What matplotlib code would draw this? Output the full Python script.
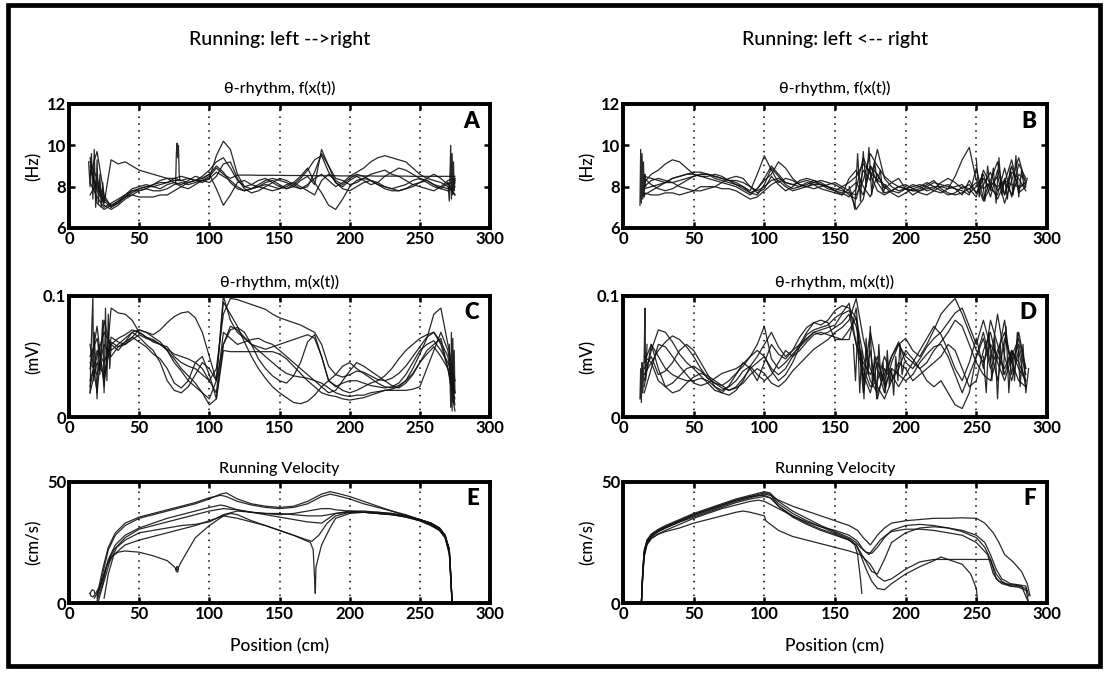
import numpy as np
import matplotlib
matplotlib.use("Agg")
import matplotlib.pyplot as plt
from matplotlib.patches import Rectangle

plt.rcParams['font.family'] = ['Lato', 'DejaVu Sans']

# position grids (cm) for the theta traces
pos_left = np.arange(15, 276, 5)    # 53 samples, left -> right runs
pos_right = np.arange(15, 286, 5)   # 55 samples, left <- right runs

# ---- A: theta frequency, left -> right (Hz)
freq_a1 = [9.2, 8.4, 7.4, 7.1, 7.2, 7.5, 7.8, 7.9, 8.0, 8.1, 8.2, 8.2, 8.3,
           8.3, 8.4, 8.3, 8.2, 8.4, 9.5, 10.2, 9.8, 8.6, 8.0, 7.9, 8.1, 8.3,
           8.4, 8.3, 8.2, 8.0, 7.9, 8.1, 8.4, 8.6, 8.3, 8.0, 8.2, 8.5, 8.7,
           8.9, 9.2, 9.4, 9.5, 9.4, 9.3, 9.2, 8.9, 8.6, 8.4, 8.3, 8.2, 8.0, 7.6]
freq_a2 = [8.6, 9.7, 7.6, 7.0, 7.3, 7.6, 7.9, 8.0, 8.1, 8.0, 7.9, 8.1, 8.2,
           8.1, 8.3, 8.5, 8.4, 8.6, 7.9, 7.1, 7.6, 8.2, 8.3, 8.1, 8.0, 8.2,
           8.3, 8.1, 7.9, 8.0, 8.3, 8.5, 8.1, 9.8, 9.0, 8.4, 8.3, 8.1, 8.2,
           8.4, 8.6, 8.7, 8.8, 8.6, 8.5, 8.3, 8.1, 8.2, 8.4, 8.6, 8.4, 8.1, 8.3]
freq_a3 = [9.0, 7.8, 7.2, 9.3, 9.1, 9.2, 9.0, 8.8, 8.7, 8.6, 8.5, 8.4, 8.4,
           8.3, 8.2, 8.3, 8.5, 8.8, 9.2, 9.4, 8.9, 8.3, 8.0, 8.1, 8.3, 8.4,
           8.2, 8.0, 7.9, 8.1, 8.4, 8.8, 9.3, 9.5, 8.7, 8.2, 8.0, 8.3, 8.5,
           8.3, 8.1, 8.2, 8.5, 8.7, 8.9, 8.8, 8.6, 8.4, 8.3, 8.1, 8.0, 7.9, 8.2]
freq_a4 = [9.4, 7.2, 6.9, 7.1, 7.3, 7.5, 7.6, 7.5, 7.5, 7.5, 7.6, 7.6, 7.8,
           8.0, 8.2, 8.3, 8.4, 8.6, 9.0, 8.7, 8.2, 7.9, 7.8, 7.9, 8.0, 8.1,
           8.0, 7.9, 8.0, 8.2, 8.5, 8.9, 8.2, 7.7, 7.1, 6.9, 7.4, 8.0, 8.3,
           8.4, 8.3, 8.1, 8.0, 7.9, 8.0, 8.1, 8.3, 8.4, 8.2, 8.0, 7.9, 7.8, 8.0]
freq_a5 = [8.8, 8.0, 7.3, 7.0, 7.2, 7.5, 7.7, 7.9, 8.0, 8.0, 8.1, 8.2, 8.4,
           8.5, 8.4, 8.3, 8.3, 8.5, 8.9, 8.6, 8.4, 8.56, 8.56, 8.56, 8.55, 8.55,
           8.55, 8.55, 8.54, 8.54, 8.54, 8.54, 8.53, 8.53, 8.53, 8.53, 8.52, 8.52, 8.52,
           8.52, 8.52, 8.51, 8.51, 8.51, 8.51, 8.51, 8.5, 8.5, 8.5, 8.5, 8.5, 8.5, 8.5]
freq_a6 = [8.2, 7.5, 7.0, 7.2, 7.4, 7.6, 7.8, 7.8, 7.9, 8.1, 8.3, 8.4, 8.2,
           8.0, 7.9, 8.1, 8.3, 8.2, 8.5, 9.1, 9.2, 8.4, 7.9, 7.7, 7.8, 8.0,
           8.2, 8.4, 8.3, 8.1, 7.9, 8.0, 8.7, 9.6, 9.0, 8.2, 7.9, 7.8, 8.0,
           8.2, 8.3, 8.2, 8.0, 7.9, 7.8, 7.9, 8.0, 8.2, 8.3, 8.1, 7.9, 8.2, 7.6]
freq_a7 = [7.6, 8.2, 7.1, 6.9, 7.1, 7.4, 7.6, 7.8, 7.9, 7.8, 7.8, 7.9, 8.1,
           8.2, 8.1, 8.2, 8.3, 8.4, 8.7, 8.5, 8.3, 8.0, 7.8, 7.9, 8.0, 7.9,
           7.8, 7.9, 8.1, 8.2, 8.0, 7.8, 7.6, 8.3, 8.6, 8.3, 8.1, 8.4, 8.6,
           8.5, 8.3, 8.1, 7.9, 7.8, 7.8, 7.9, 8.1, 8.0, 7.9, 7.8, 8.0, 8.3, 8.4]
# short bursts at the track ends and the glitch near 77 cm
freq_a_start_x = [14, 15, 16, 17, 18, 19, 20, 21, 22, 23, 24, 25, 26]
freq_a_start_y = [9.2, 8.0, 9.6, 7.4, 9.8, 7.0, 9.3, 7.2, 8.6, 7.0, 8.2, 7.3, 7.6]
freq_a_spike_x = [76, 76.5, 77, 77.5, 78, 78.5, 79]
freq_a_spike_y = [8.2, 9.6, 10.1, 9.4, 10.0, 8.6, 8.3]
freq_a_end_x = [270, 271, 272, 272.5, 273, 273.5, 274, 274.5, 275]
freq_a_end_y = [8.2, 7.3, 10.0, 7.4, 9.6, 7.6, 9.2, 7.8, 8.4]

# ---- B: theta frequency, left <- right (Hz)
freq_b1 = [8.2, 8.6, 8.8, 9.1, 9.3, 9.2, 8.9, 8.6, 8.5, 8.4, 8.3, 8.2, 8.1,
           8.0, 7.8, 7.6, 7.9, 8.4, 9.0, 8.6, 8.2, 8.1, 8.2, 8.3, 8.2, 8.1,
           8.0, 7.9, 7.8, 7.7, 7.6, 8.3, 9.6, 9.0, 8.5, 8.2, 8.0, 7.9, 7.8,
           7.8, 7.9, 8.0, 8.0, 7.9, 8.5, 9.3, 9.9, 8.3, 7.9, 8.2, 8.0, 8.3, 8.1, 8.0, 8.2]
freq_b2 = [8.5, 8.4, 8.3, 8.2, 8.2, 8.3, 8.4, 8.5, 8.6, 8.6, 8.5, 8.4, 8.3,
           8.2, 8.0, 7.8, 8.6, 9.5, 8.8, 8.2, 8.4, 8.3, 8.1, 8.0, 8.2, 8.3,
           8.2, 8.1, 7.9, 7.6, 7.4, 8.8, 8.3, 9.8, 8.4, 8.0, 7.8, 7.9, 8.0,
           8.1, 8.0, 7.8, 7.7, 7.9, 8.0, 8.1, 7.7, 8.0, 8.6, 7.5, 8.8, 7.6, 9.0, 7.9, 8.2]
freq_b3 = [7.6, 7.8, 8.0, 8.2, 8.4, 8.5, 8.6, 8.6, 8.5, 8.5, 8.6, 8.5, 8.3,
           8.1, 7.9, 7.7, 7.9, 8.3, 8.6, 9.2, 8.9, 8.4, 8.1, 8.0, 7.9, 8.0,
           8.1, 8.2, 8.0, 7.8, 6.9, 7.4, 9.0, 8.2, 7.7, 7.8, 8.0, 8.1, 7.9,
           7.7, 7.6, 7.8, 8.0, 8.1, 7.9, 7.8, 7.6, 8.9, 7.4, 8.3, 9.2, 7.6, 8.7, 8.4, 7.8]
freq_b4 = [7.7, 7.6, 7.6, 7.7, 7.7, 7.6, 7.7, 7.8, 8.0, 8.0, 8.0, 7.9, 7.9,
           7.8, 7.6, 7.4, 7.5, 7.8, 8.1, 8.3, 8.0, 7.8, 7.9, 8.0, 8.1, 8.1,
           8.0, 7.8, 7.7, 7.5, 7.9, 9.4, 8.6, 7.8, 7.6, 7.8, 8.0, 7.9, 7.8,
           7.9, 8.1, 8.3, 7.9, 7.7, 7.6, 7.7, 7.9, 8.2, 7.3, 8.0, 8.5, 7.2, 8.3, 9.4, 8.1]
freq_b5 = [8.0, 8.3, 8.4, 8.3, 8.2, 8.0, 7.9, 7.8, 7.8, 7.9, 8.0, 8.2, 8.4,
           8.5, 8.4, 8.0, 7.7, 7.9, 8.5, 8.1, 7.8, 8.0, 8.3, 8.4, 8.3, 8.1,
           7.9, 7.8, 8.0, 8.2, 8.5, 9.1, 8.7, 8.3, 8.1, 7.8, 7.7, 7.9, 8.1,
           8.0, 7.8, 7.9, 8.2, 8.4, 8.2, 7.9, 8.1, 7.7, 8.4, 7.9, 7.6, 8.9, 7.5, 8.6, 8.3]
freq_b6 = [7.9, 8.0, 8.1, 8.2, 8.4, 8.5, 8.6, 8.7, 8.7, 8.6, 8.5, 8.4, 8.3,
           8.3, 8.2, 8.0, 7.8, 8.0, 8.3, 8.4, 8.2, 8.1, 8.0, 8.1, 8.3, 8.2,
           8.0, 7.8, 7.6, 8.4, 8.8, 8.0, 7.5, 8.6, 7.9, 8.2, 8.4, 7.9, 7.6,
           7.8, 8.0, 8.2, 8.1, 8.0, 7.9, 7.6, 8.3, 7.7, 8.1, 8.7, 7.8, 8.3, 7.6, 9.1, 8.4]
freq_b7 = [8.4, 8.1, 7.9, 7.8, 7.9, 8.1, 8.3, 8.5, 8.6, 8.6, 8.4, 8.3, 8.2,
           8.1, 8.0, 7.7, 7.6, 8.1, 8.9, 8.5, 8.1, 7.9, 8.0, 8.2, 8.1, 7.9,
           7.8, 7.7, 7.6, 7.9, 8.2, 7.6, 9.0, 8.6, 8.0, 7.7, 7.5, 7.7, 7.9,
           8.0, 8.2, 8.0, 7.8, 7.6, 7.7, 8.0, 7.9, 7.5, 8.8, 8.1, 7.4, 8.2, 9.3, 7.7, 8.0]
freq_b_start_x = [12, 12.5, 13, 13.5, 14, 14.5, 15, 15.5, 16]
freq_b_start_y = [7.1, 9.8, 7.2, 9.6, 7.4, 9.2, 7.5, 8.6, 8.0]
freq_b_mid_x = [160, 162, 164, 166, 168, 170, 172, 174, 176, 178, 180, 182, 184, 186]
freq_b_mid_y = [8.0, 7.6, 6.9, 9.6, 7.3, 9.7, 8.0, 9.9, 7.6, 9.2, 8.2, 8.8, 7.7, 8.1]
freq_b_end_x = [250, 252, 254, 256, 258, 260, 262, 264, 266, 268,
                270, 272, 274, 276, 278, 280, 282, 284, 286]
freq_b_end_y = [9.3, 7.5, 8.6, 7.3, 9.0, 7.8, 8.9, 7.2, 9.4, 7.6,
                8.4, 7.4, 8.9, 7.6, 9.5, 7.5, 8.8, 7.9, 8.4]

# ---- C: theta amplitude, left -> right (mV)
amp_c1 = [0.030, 0.050, 0.070, 0.060, 0.065, 0.068, 0.072, 0.070, 0.066, 0.062, 0.060, 0.058, 0.050,
          0.045, 0.042, 0.040, 0.035, 0.030, 0.040, 0.085, 0.098, 0.097, 0.095, 0.093, 0.091, 0.089,
          0.085, 0.082, 0.080, 0.078, 0.076, 0.073, 0.070, 0.060, 0.042, 0.035, 0.033, 0.035, 0.038,
          0.037, 0.034, 0.031, 0.030, 0.032, 0.036, 0.042, 0.050, 0.058, 0.066, 0.070, 0.060, 0.040, 0.015]
amp_c2 = [0.020, 0.045, 0.035, 0.060, 0.055, 0.062, 0.070, 0.072, 0.070, 0.068, 0.072, 0.078, 0.083,
          0.086, 0.087, 0.082, 0.070, 0.050, 0.030, 0.060, 0.075, 0.072, 0.066, 0.060, 0.058, 0.056,
          0.058, 0.060, 0.062, 0.064, 0.066, 0.068, 0.065, 0.050, 0.030, 0.025, 0.028, 0.030, 0.030,
          0.028, 0.026, 0.025, 0.024, 0.025, 0.028, 0.035, 0.045, 0.055, 0.060, 0.063, 0.055, 0.045, 0.030]
amp_c3 = [0.040, 0.075, 0.025, 0.090, 0.086, 0.085, 0.080, 0.070, 0.066, 0.064, 0.060, 0.055, 0.045,
          0.038, 0.030, 0.025, 0.020, 0.015, 0.030, 0.095, 0.085, 0.075, 0.062, 0.050, 0.040, 0.032,
          0.025, 0.020, 0.016, 0.012, 0.011, 0.013, 0.018, 0.025, 0.030, 0.026, 0.022, 0.020, 0.022,
          0.025, 0.028, 0.030, 0.034, 0.040, 0.048, 0.055, 0.060, 0.065, 0.068, 0.070, 0.062, 0.050, 0.010]
amp_c4 = [0.060, 0.020, 0.080, 0.055, 0.060, 0.065, 0.070, 0.066, 0.060, 0.055, 0.045, 0.030, 0.022,
          0.020, 0.025, 0.035, 0.045, 0.040, 0.030, 0.100, 0.080, 0.070, 0.065, 0.060, 0.055, 0.050,
          0.045, 0.040, 0.036, 0.034, 0.033, 0.032, 0.030, 0.028, 0.024, 0.020, 0.018, 0.017, 0.018,
          0.018, 0.020, 0.021, 0.022, 0.023, 0.025, 0.030, 0.040, 0.052, 0.065, 0.085, 0.090, 0.060, 0.030]
amp_c5 = [0.050, 0.065, 0.030, 0.066, 0.062, 0.060, 0.064, 0.068, 0.065, 0.063, 0.060, 0.056, 0.052,
          0.050, 0.048, 0.045, 0.040, 0.030, 0.020, 0.070, 0.065, 0.060, 0.062, 0.064, 0.065, 0.062,
          0.060, 0.055, 0.050, 0.045, 0.040, 0.035, 0.030, 0.025, 0.020, 0.022, 0.030, 0.038, 0.045,
          0.042, 0.038, 0.034, 0.030, 0.026, 0.024, 0.028, 0.035, 0.045, 0.055, 0.060, 0.065, 0.040, 0.005]
amp_c6 = [0.045, 0.035, 0.060, 0.050, 0.058, 0.062, 0.066, 0.062, 0.058, 0.052, 0.048, 0.040, 0.028,
          0.024, 0.030, 0.045, 0.050, 0.035, 0.015, 0.055, 0.054, 0.054, 0.054, 0.054, 0.054, 0.054,
          0.054, 0.052, 0.048, 0.042, 0.036, 0.030, 0.025, 0.020, 0.018, 0.017, 0.015, 0.014, 0.015,
          0.016, 0.018, 0.020, 0.022, 0.022, 0.022, 0.022, 0.023, 0.025, 0.040, 0.055, 0.070, 0.055, 0.020]
amp_c7 = [0.025, 0.055, 0.045, 0.062, 0.058, 0.060, 0.066, 0.072, 0.070, 0.066, 0.062, 0.055, 0.048,
          0.040, 0.034, 0.028, 0.020, 0.010, 0.015, 0.060, 0.072, 0.074, 0.070, 0.060, 0.048, 0.040,
          0.034, 0.030, 0.028, 0.034, 0.045, 0.062, 0.068, 0.050, 0.030, 0.035, 0.042, 0.045, 0.040,
          0.036, 0.032, 0.028, 0.025, 0.024, 0.026, 0.030, 0.036, 0.045, 0.052, 0.058, 0.050, 0.040, 0.020]
amp_c_start_x = [15, 16, 17, 17.5, 18, 20, 21, 22, 24, 25, 26, 27, 28, 29, 30]
amp_c_start_y = [0.02, 0.065, 0.10, 0.03, 0.07, 0.015, 0.06, 0.035, 0.08, 0.02, 0.09, 0.03, 0.085, 0.04, 0.06]
amp_c_end_x = [271, 272, 272.5, 273, 273.5, 274, 274.5, 275]
amp_c_end_y = [0.06, 0.008, 0.07, 0.005, 0.065, 0.012, 0.055, 0.02]

# ---- D: theta amplitude, left <- right (mV)
amp_d1 = [0.030, 0.055, 0.072, 0.070, 0.062, 0.052, 0.045, 0.040, 0.034, 0.028, 0.022, 0.020, 0.026,
          0.035, 0.045, 0.040, 0.030, 0.045, 0.060, 0.052, 0.048, 0.055, 0.066, 0.074, 0.078, 0.076,
          0.080, 0.088, 0.092, 0.090, 0.082, 0.050, 0.030, 0.020, 0.035, 0.050, 0.060, 0.065, 0.055,
          0.050, 0.060, 0.072, 0.085, 0.092, 0.098, 0.085, 0.070, 0.055, 0.045, 0.060, 0.050, 0.040, 0.055, 0.045, 0.030]
amp_d2 = [0.050, 0.045, 0.055, 0.062, 0.067, 0.064, 0.058, 0.050, 0.040, 0.032, 0.028, 0.024, 0.022,
          0.025, 0.032, 0.040, 0.045, 0.050, 0.038, 0.030, 0.035, 0.045, 0.058, 0.068, 0.072, 0.074,
          0.076, 0.082, 0.086, 0.094, 0.060, 0.035, 0.020, 0.045, 0.030, 0.050, 0.062, 0.045, 0.040,
          0.048, 0.058, 0.065, 0.070, 0.078, 0.086, 0.090, 0.075, 0.060, 0.080, 0.058, 0.030, 0.065, 0.045, 0.060, 0.035]
amp_d3 = [0.045, 0.060, 0.040, 0.025, 0.020, 0.022, 0.028, 0.033, 0.036, 0.034, 0.030, 0.026, 0.022,
          0.024, 0.028, 0.035, 0.040, 0.036, 0.028, 0.025, 0.030, 0.038, 0.044, 0.050, 0.056, 0.060,
          0.064, 0.070, 0.074, 0.080, 0.098, 0.065, 0.040, 0.025, 0.015, 0.030, 0.045, 0.040, 0.030,
          0.035, 0.040, 0.045, 0.050, 0.060, 0.055, 0.040, 0.025, 0.030, 0.055, 0.070, 0.045, 0.030, 0.050, 0.065, 0.040]
amp_d4 = [0.040, 0.050, 0.035, 0.038, 0.045, 0.055, 0.060, 0.055, 0.045, 0.035, 0.025, 0.020, 0.018,
          0.022, 0.030, 0.042, 0.050, 0.060, 0.070, 0.058, 0.050, 0.055, 0.060, 0.065, 0.070, 0.072,
          0.074, 0.076, 0.085, 0.088, 0.075, 0.040, 0.025, 0.030, 0.050, 0.035, 0.025, 0.035, 0.045,
          0.040, 0.030, 0.025, 0.030, 0.020, 0.010, 0.007, 0.020, 0.050, 0.065, 0.040, 0.055, 0.070, 0.045, 0.030, 0.025]
amp_d5 = [0.025, 0.060, 0.050, 0.040, 0.035, 0.032, 0.030, 0.030, 0.032, 0.030, 0.025, 0.022, 0.025,
          0.030, 0.038, 0.042, 0.035, 0.030, 0.035, 0.045, 0.055, 0.050, 0.055, 0.062, 0.068, 0.070,
          0.068, 0.066, 0.064, 0.072, 0.082, 0.030, 0.070, 0.040, 0.020, 0.045, 0.060, 0.050, 0.045,
          0.055, 0.065, 0.075, 0.068, 0.055, 0.040, 0.030, 0.045, 0.065, 0.040, 0.080, 0.060, 0.035, 0.055, 0.040, 0.030]
amp_d6 = [0.035, 0.045, 0.030, 0.025, 0.028, 0.034, 0.040, 0.042, 0.038, 0.032, 0.028, 0.026, 0.030,
          0.036, 0.042, 0.050, 0.055, 0.050, 0.040, 0.035, 0.040, 0.050, 0.060, 0.070, 0.078, 0.080,
          0.078, 0.064, 0.064, 0.064, 0.090, 0.020, 0.055, 0.015, 0.040, 0.030, 0.040, 0.055, 0.048,
          0.040, 0.045, 0.055, 0.062, 0.070, 0.080, 0.075, 0.060, 0.045, 0.035, 0.030, 0.050, 0.080, 0.035, 0.070, 0.040]
amp_d7 = [0.020, 0.040, 0.060, 0.058, 0.050, 0.042, 0.035, 0.028, 0.026, 0.028, 0.032, 0.036, 0.038,
          0.040, 0.044, 0.050, 0.060, 0.075, 0.048, 0.040, 0.045, 0.052, 0.058, 0.064, 0.070, 0.068,
          0.070, 0.074, 0.078, 0.085, 0.060, 0.045, 0.035, 0.050, 0.025, 0.040, 0.035, 0.030, 0.035,
          0.045, 0.052, 0.058, 0.060, 0.050, 0.035, 0.020, 0.035, 0.050, 0.070, 0.045, 0.085, 0.050, 0.030, 0.055, 0.025]
amp_d_start_x = [12, 12.5, 13, 13.5, 14, 15, 15.5, 16, 17]
amp_d_start_y = [0.015, 0.04, 0.012, 0.045, 0.02, 0.05, 0.09, 0.03, 0.06]
amp_d_mid_x = [163, 164.5, 166, 167.5, 169, 170.5, 172, 173.5, 175, 176.5, 178, 179.5, 181,
               182.5, 184, 185.5, 187, 188.5, 190, 191.5, 193, 194.5, 196, 197.5, 199]
amp_d_mid_y = [0.060, 0.030, 0.070, 0.020, 0.055, 0.015, 0.065, 0.035, 0.075, 0.025, 0.050, 0.015, 0.060,
               0.030, 0.045, 0.020, 0.055, 0.025, 0.040, 0.018, 0.050, 0.030, 0.060, 0.035, 0.045]
amp_d_end_x = [255, 257, 259, 261, 263, 265, 267, 269, 271, 273, 275, 277, 279, 281, 283, 285, 287]
amp_d_end_y = [0.05, 0.02, 0.07, 0.03, 0.065, 0.015, 0.06, 0.035, 0.075, 0.02, 0.055, 0.03,
               0.07, 0.025, 0.06, 0.02, 0.04]

# ---- E: running velocity, left -> right (cm/s)
vel_e_x1 = [20, 24, 28, 33, 40, 50, 60, 70, 80, 90, 100, 108, 112, 120, 130, 140, 150,
            160, 170, 180, 186, 190, 200, 210, 220, 230, 240, 250, 258, 264, 268, 271, 272, 273]
vel_e1 = [2, 12, 22, 28, 32, 35, 36.5, 38, 39.5, 41, 43, 45, 45.5, 43, 41, 40, 39.5,
          40, 42, 45, 46, 45.5, 44, 42, 40, 38, 36, 34, 32, 30, 27, 20, 10, 0]
vel_e2 = [3, 14, 23, 29, 33, 35.5, 37, 38.5, 40, 41.5, 43.5, 44.5, 44, 42, 40.5, 39.5, 39,
          39.5, 41, 44, 45, 44.5, 43, 41, 39.5, 38, 36.5, 34.5, 32.5, 30.5, 28, 22, 12, 0]
vel_e3 = [1, 8, 18, 24, 28, 31, 33, 35, 36.5, 38, 39.5, 40.5, 40, 38.5, 37.5, 37, 36.5,
          37, 38, 39, 39, 38.5, 38, 37.5, 37, 36.5, 35.5, 34, 32, 30, 27, 21, 10, 0]
vel_e_x4 = [21, 25, 29, 34, 40, 50, 60, 70, 80, 90, 100, 110, 120, 130, 140, 150,
            160, 170, 180, 190, 200, 210, 220, 230, 240, 250, 258, 264, 268, 271, 272, 273]
vel_e4 = [1, 9, 17, 23, 26, 29, 30, 31, 32, 32.5, 33.5, 36.5, 38, 37.5, 37, 37,
          36.5, 36, 36, 37, 37.5, 37.5, 37, 36.5, 35.5, 34, 32.5, 30.5, 27.5, 21, 11, 0]
vel_e_x5 = [25, 28, 32, 40, 50, 60, 70, 80, 90, 100, 110, 120, 130, 140, 150, 160, 168, 172, 174,
            175, 175.5, 176, 180, 186, 190, 200, 210, 220, 230, 240, 250, 258, 264, 268, 271, 272, 273]
vel_e5 = [2, 12, 20, 24, 26, 27.5, 29, 30.5, 32, 34, 36, 35, 33.5, 32, 30, 28, 26, 25, 22,
          10, 4, 15, 24, 31, 35, 37, 37.5, 37.5, 37, 36, 34.5, 33, 31, 28, 22, 12, 0]
vel_e_x6 = [18, 22, 26, 30, 35, 40, 50, 60, 70, 75, 77, 80, 85, 90, 100, 110, 115, 120, 130, 140,
            150, 160, 170, 173, 178, 184, 190, 200, 210, 220, 230, 240, 250, 258, 264, 268, 271, 272, 273]
vel_e6 = [2, 6, 14, 19, 21, 21.5, 21, 19.5, 17.5, 15, 13.5, 17, 22, 27, 32, 36, 37, 36.5, 34, 32,
          30, 28, 26, 25.5, 28, 33, 36, 37.5, 37.5, 37, 36.5, 36, 34.5, 33, 31, 28, 22, 12, 0]
vel_e_x7 = [19, 23, 27, 32, 40, 50, 60, 70, 80, 90, 100, 110, 120, 130, 140, 150, 160,
            170, 180, 185, 190, 200, 210, 220, 230, 240, 250, 258, 264, 268, 271, 272, 273]
vel_e7 = [4, 8, 16, 22, 27, 30.5, 32, 33.5, 35, 36.5, 38, 39, 38.5, 37.5, 36.5, 35.5, 34.5,
          33.5, 33, 35, 37, 38, 38, 37.5, 37, 36, 34.5, 33, 31, 28, 22, 12, 0]
vel_e_loop_x = [15, 16.5, 18, 18.5, 17, 15.5, 15]
vel_e_loop_y = [4, 5.5, 5, 3.5, 2.5, 3, 4]
vel_e_knot_x = [76, 77, 78, 77.5, 76.5, 76]
vel_e_knot_y = [14, 15.2, 14.2, 12.8, 13, 14]

# ---- F: running velocity, left <- right (cm/s)
vel_f_x1 = [13, 14, 15, 17, 20, 25, 30, 40, 50, 60, 70, 80, 90, 100, 104, 110, 120, 130, 140, 150,
            160, 165, 168, 172, 176, 180, 185, 190, 200, 210, 220, 230, 240, 250, 256, 260, 264,
            268, 274, 280, 285, 287]
vel_f1 = [0, 14, 22, 26, 28.5, 30.5, 32, 34.5, 37, 39, 41, 43, 44.5, 46, 45.5, 42, 38, 35, 32, 29.5,
          27, 25, 23, 21, 20.5, 23, 27, 30, 32, 32.5, 32, 31, 30, 28, 25, 20, 14,
          10, 8, 7.5, 7, 3]
vel_f2 = [0, 12, 21, 25.5, 28, 30, 31.5, 34, 36.5, 38.5, 40.5, 42.5, 44, 45.5, 45, 41, 37, 34, 31.5, 29,
          26.5, 24, 21, 17, 13, 12, 18, 25, 29, 31, 31.5, 31, 29.5, 27, 23, 18, 12,
          9, 7, 7, 6, 0]
vel_f_x3 = [13, 14, 15, 17, 20, 25, 30, 40, 50, 60, 70, 80, 90, 100, 104, 110, 120, 130, 140, 150,
            160, 166, 170, 175, 180, 185, 190, 200, 210, 220, 230, 240, 250, 256, 262, 266, 270,
            276, 282, 286, 288]
vel_f3 = [0, 13, 21, 25, 27.5, 29.5, 31, 33.5, 36, 38, 40, 42, 43.5, 45, 44.5, 42.5, 40, 38, 36, 34,
          32, 30, 27, 24, 28, 31, 33, 34, 34.5, 35, 35, 35.2, 35, 33, 29, 25, 20,
          17, 13, 8, 3]
vel_f_x4 = [13, 14, 15, 17, 20, 25, 30, 40, 50, 60, 70, 80, 85, 90, 100, 101, 110, 120, 130, 140,
            150, 160, 168, 175, 180, 185, 190, 200, 210, 220, 230, 240, 250, 256, 260, 264, 268,
            274, 280, 286]
vel_f4 = [0, 12, 20, 24.5, 27, 28.5, 29.5, 31, 33, 34.5, 36, 37.5, 38, 37.5, 36, 34, 30, 27.5, 26, 24.5,
          23, 21.5, 20, 16, 11, 9, 10, 14, 17, 18, 18, 18, 18, 18, 18, 10, 8,
          7, 6.5, 5]
vel_f_x5 = [13, 14, 15, 17, 20, 25, 30, 40, 50, 60, 70, 80, 90, 100, 106, 110, 120, 130, 140, 150,
            160, 165, 168, 172, 176, 180, 185, 190, 195, 200, 210, 220, 225, 230, 240, 246, 250, 251]
vel_f5 = [0, 13, 21, 26, 28, 30, 31.5, 34, 36.5, 38.5, 40.5, 42.5, 44, 44.5, 43, 40, 36, 33, 30.5, 28.5,
          26, 24, 20, 14, 9, 6, 5.5, 8, 10, 12, 15, 17.5, 19, 18, 16, 12, 6, 0]
vel_f_x6 = [13, 14, 15, 17, 20, 25, 30, 40, 50, 60, 70, 80, 90, 100, 104, 110, 120, 130, 140, 150,
            160, 164, 166, 168, 169]
vel_f6 = [0, 12, 20, 25, 27.5, 29.5, 31, 33.5, 35.5, 37.5, 39.5, 41.5, 43, 44, 43.5, 40, 35.5, 32.5, 30, 28,
          26, 24, 20, 10, 4]
vel_f_x7 = [13, 14, 15, 17, 20, 25, 30, 40, 50, 60, 70, 80, 90, 96, 100, 110, 120, 130, 140, 150,
            160, 166, 170, 174, 178, 182, 186, 190, 200, 210, 220, 230, 240, 250, 258, 262, 266,
            270, 276, 282, 287]
vel_f7 = [0, 11, 19, 24, 26.5, 28.5, 30, 32.5, 35, 37, 39, 40.5, 42, 42.5, 42, 39, 36, 33.5, 31.5, 30,
          28, 25.5, 22, 20, 23, 26, 28, 29.5, 30.5, 30.5, 30, 29, 28, 25, 20, 12, 9,
          8, 7.5, 7, 0]

col_titles = ["Running: left -->right", "Running: left <-- right"]
row_titles = ["\u03b8-rhythm, f(x(t))", "\u03b8-rhythm, m(x(t))", "Running Velocity"]
row_units = ["(Hz)", "(mV)", "(cm/s)"]
row_ylims = [(6, 12), (0, 0.1), (0, 50)]
row_yticks = [[6, 8, 10, 12], [0, 0.1], [0, 50]]
row_yticklabels = [["6", "8", "10", "12"], ["0", "0.1"], ["0", "50"]]
panel_letters = [["A", "B"], ["C", "D"], ["E", "F"]]
x_ticks = [0, 50, 100, 150, 200, 250, 300]

# traces per panel: (x, y) pairs
panels = {
    (0, 0): [(pos_left, y) for y in (freq_a1, freq_a2, freq_a3, freq_a4, freq_a5, freq_a6, freq_a7)]
            + [(freq_a_start_x, freq_a_start_y), (freq_a_spike_x, freq_a_spike_y),
               (freq_a_end_x, freq_a_end_y)],
    (0, 1): [(pos_right, y) for y in (freq_b1, freq_b2, freq_b3, freq_b4, freq_b5, freq_b6, freq_b7)]
            + [(freq_b_start_x, freq_b_start_y), (freq_b_mid_x, freq_b_mid_y),
               (freq_b_end_x, freq_b_end_y)],
    (1, 0): [(pos_left, y) for y in (amp_c1, amp_c2, amp_c3, amp_c4, amp_c5, amp_c6, amp_c7)]
            + [(amp_c_start_x, amp_c_start_y), (amp_c_end_x, amp_c_end_y)],
    (1, 1): [(pos_right, y) for y in (amp_d1, amp_d2, amp_d3, amp_d4, amp_d5, amp_d6, amp_d7)]
            + [(amp_d_start_x, amp_d_start_y), (amp_d_mid_x, amp_d_mid_y),
               (amp_d_end_x, amp_d_end_y)],
    (2, 0): [(vel_e_x1, vel_e1), (vel_e_x1, vel_e2), (vel_e_x1, vel_e3), (vel_e_x4, vel_e4),
             (vel_e_x5, vel_e5), (vel_e_x6, vel_e6), (vel_e_x7, vel_e7),
             (vel_e_loop_x, vel_e_loop_y), (vel_e_knot_x, vel_e_knot_y)],
    (2, 1): [(vel_f_x1, vel_f1), (vel_f_x1, vel_f2), (vel_f_x3, vel_f3), (vel_f_x4, vel_f4),
             (vel_f_x5, vel_f5), (vel_f_x6, vel_f6), (vel_f_x7, vel_f7)],
}

W, H = 1107, 673
fig = plt.figure(figsize=(W / 100, H / 100), dpi=100)
fig.patch.set_facecolor("white")


def px_rect(x0, y0, x1, y1):
    return [x0 / W, 1 - y1 / H, (x1 - x0) / W, (y1 - y0) / H]


col_x = [(69, 490), (623, 1047)]
row_y = [(104, 228), (296, 417), (482, 603)]
title_y = [88, 282, 469]

for r in range(3):
    for c in range(2):
        x0, x1 = col_x[c]
        y0, y1 = row_y[r]
        ax = fig.add_axes(px_rect(x0, y0, x1, y1))
        for xs, ys in panels[(r, c)]:
            ax.plot(xs, ys, color="#111111", lw=0.9, alpha=0.9)
        ax.set_xlim(0, 300)
        ax.set_ylim(*row_ylims[r])
        ax.set_xticks(x_ticks)
        ax.set_yticks(row_yticks[r])
        ax.set_yticklabels(row_yticklabels[r])
        ax.grid(axis="x", color="black", linestyle=(0, (1, 3.5)), lw=1.1)
        ax.grid(axis="y", visible=False)
        for s in ax.spines.values():
            s.set_linewidth(2.8)
        ax.tick_params(direction="in", top=True, right=True, length=4, width=1.8,
                       labelsize=12, pad=2)
        for lab in ax.get_xticklabels() + ax.get_yticklabels():
            lab.set_fontweight("bold")
        ax.text(0.975, 0.86, panel_letters[r][c], transform=ax.transAxes,
                ha="right", va="center", fontsize=16, fontweight="heavy")
        fig.text((x0 + x1) / 2 / W, 1 - title_y[r] / H, row_titles[r],
                 ha="center", va="center", fontsize=11.5, fontweight="medium")
        fig.text((x0 - 35) / W, 1 - (y0 + y1) / 2 / H, row_units[r],
                 ha="center", va="center", rotation=90, fontsize=12, fontweight="medium")
        if r == 2:
            fig.text((x0 + x1) / 2 / W, 1 - 646 / H, "Position (cm)",
                     ha="center", va="center", fontsize=12.5, fontweight="medium")

for c in range(2):
    x0, x1 = col_x[c]
    fig.text((x0 + x1) / 2 / W, 1 - 39 / H, col_titles[c],
             ha="center", va="center", fontsize=14, fontweight="medium")

# outer frame
fig.add_artist(Rectangle((8 / W, 1 - 666 / H), (1100 - 8) / W, (666 - 5) / H,
                         transform=fig.transFigure, fill=False, lw=3.4, color="black"))

fig.savefig("out.png", dpi=100, facecolor="white")
